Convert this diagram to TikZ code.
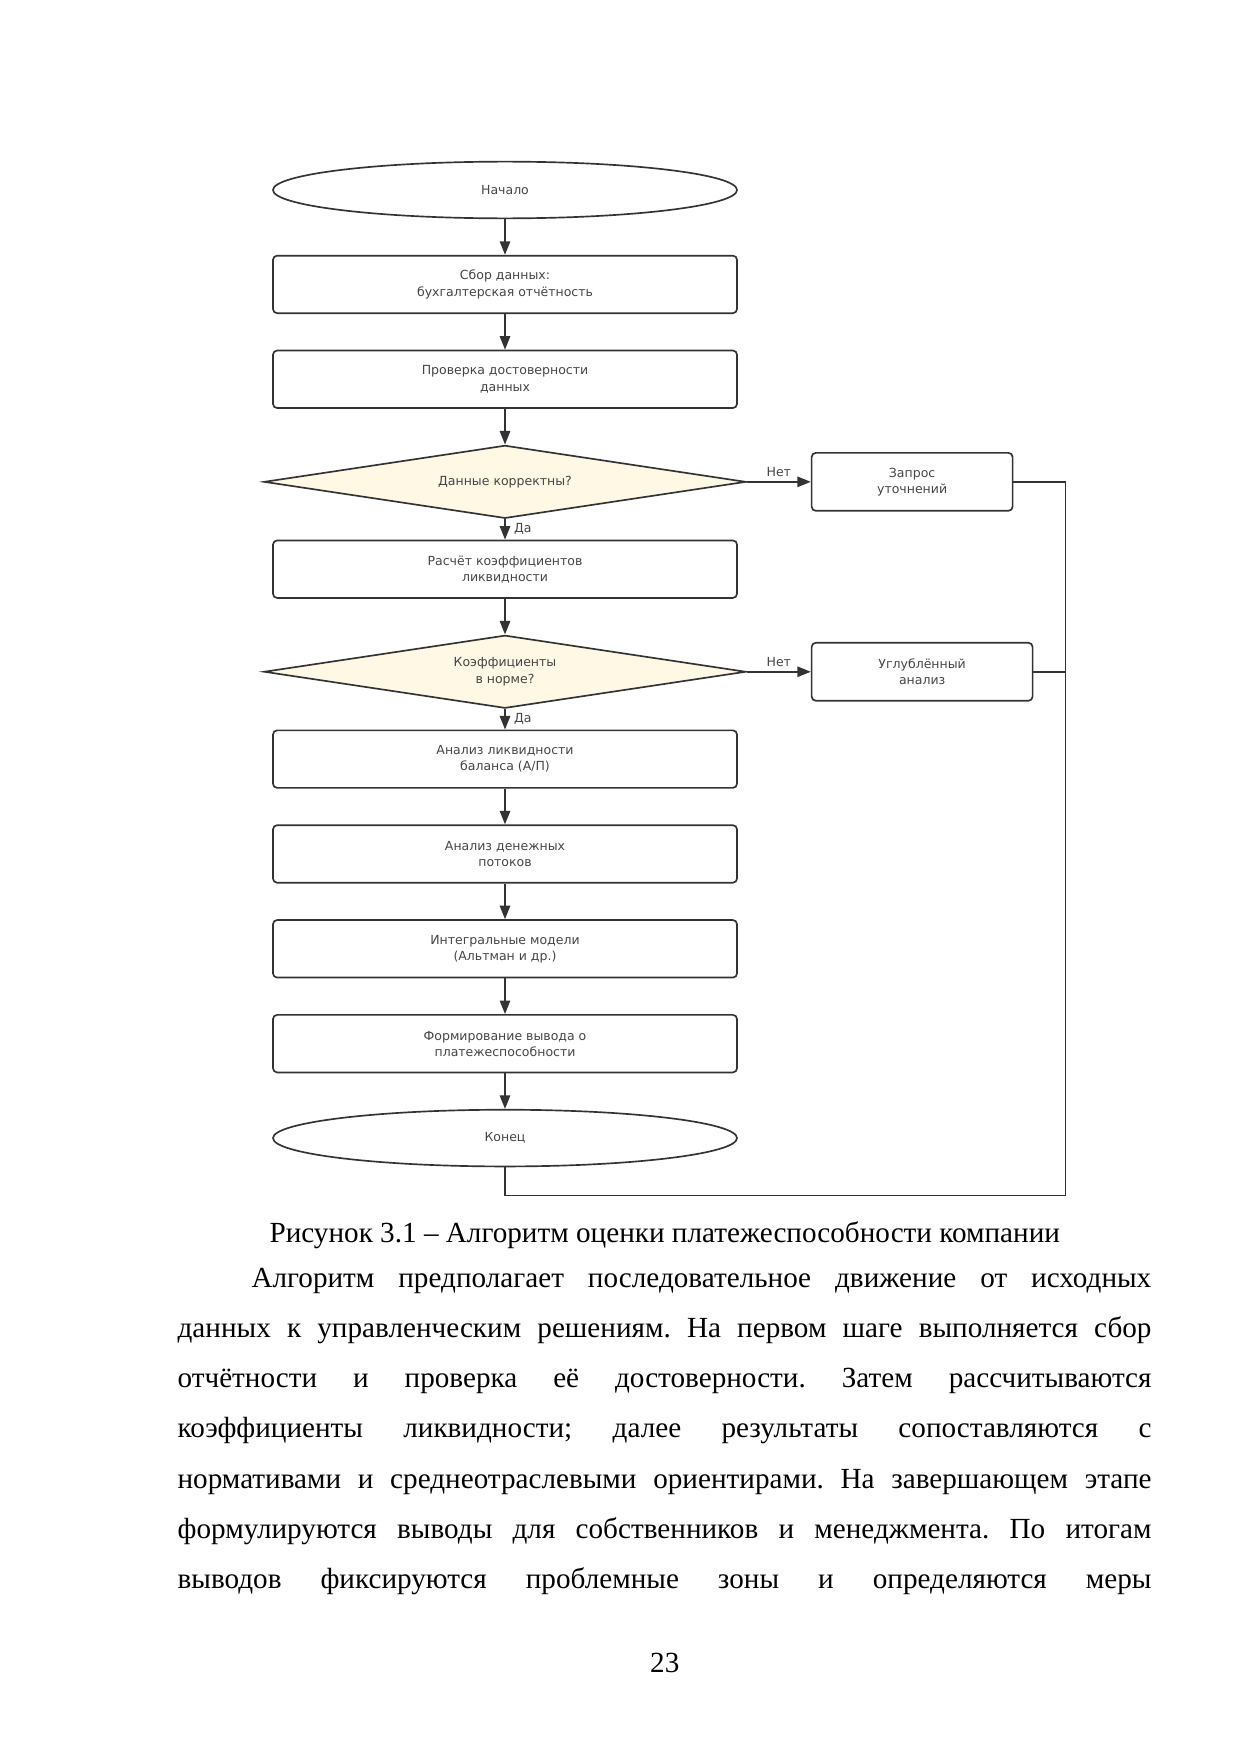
\documentclass[tikz,border=0pt]{standalone}
\usepackage{fontspec}
\setmainfont{Liberation Serif}
\newfontfamily\chartfont{DejaVu Sans}
\usepackage{tikz}
\usepackage{xcolor}
\usetikzlibrary{positioning, shapes.geometric, arrows.meta}

\definecolor{flowline}{HTML}{333333}
\definecolor{flowtext}{HTML}{454545}
\definecolor{choicefill}{HTML}{FFF8E5}

\frenchspacing
\begin{document}
\begin{tikzpicture}[
            x=0.4797pt, y=-0.4797pt,
            node distance=17.1pt,
            chart/.style={font=\chartfont\fontsize{6}{7.7}\selectfont, text=flowtext, align=center},
            terminal/.style={chart, ellipse, draw=flowline, line width=0.8pt, minimum width=222.6pt, minimum height=27.2pt},
            stepbox/.style={chart, rectangle, rounded corners=2pt, draw=flowline, line width=0.8pt, minimum width=222.6pt, minimum height=27.6pt},
            sidebox/.style={stepbox, minimum height=27.8pt},
            choice/.style={chart, diamond, aspect=6.6, draw=flowline, fill=choicefill, line width=0.8pt, minimum width=231.2pt, minimum height=35pt},
            flow/.style={draw=flowline, line width=0.8pt, -{Triangle[length=6.5pt,width=5pt]}},
            rail/.style={draw=flowline, line width=0.8pt},
            answer/.style={chart, inner sep=2pt},
            bodytext/.style={anchor=base west, inner sep=0pt, font=\fontsize{14}{16}\selectfont},
        ]
            \useasboundingbox (0,0) rectangle (1241,1754);

            \node[terminal] (nachalo) at (505,190) {Начало};
            \node[stepbox, below=of nachalo] (sbor) {Сбор данных:\\бухгалтерская отчётность};
            \node[stepbox, below=of sbor] (proverka) {Проверка достоверности\\данных};
            \node[choice, below=of proverka] (korrekt) {Данные корректны?};
            \node[stepbox, below=9.8pt of korrekt] (raschet) {Расчёт коэффициентов\\ликвидности};
            \node[choice, below=of raschet] (norma) {Коэффициенты\\в норме?};
            \node[stepbox, below=9.8pt of norma] (balans) {Анализ ликвидности\\баланса (А/П)};
            \node[stepbox, below=of balans] (potoki) {Анализ денежных\\потоков};
            \node[stepbox, below=of potoki] (modeli) {Интегральные модели\\(Альтман и др.)};
            \node[stepbox, below=of modeli] (vyvod) {Формирование вывода о\\платежеспособности};
            \node[terminal, below=of vyvod] (konec) {Конец};
            \node[sidebox, minimum width=96.4pt, right=30.7pt of korrekt] (zapros) {Запрос\\уточнений};
            \node[sidebox, minimum width=106pt, right=30.7pt of norma] (uglub) {Углублённый\\анализ};

            \foreach \a/\b in {nachalo/sbor, sbor/proverka, proverka/korrekt, raschet/norma,
                               balans/potoki, potoki/modeli, modeli/vyvod, vyvod/konec}
                \draw[flow] (\a) -- (\b);
            \draw[flow] (korrekt) -- node[answer, right, xshift=2pt] {Да} (raschet);
            \draw[flow] (norma) -- node[answer, right, xshift=2pt] {Да} (balans);
            \draw[flow] (korrekt) -- node[answer, above] {Нет} (zapros);
            \draw[flow] (norma) -- node[answer, above] {Нет} (uglub);

            \coordinate[right=25pt of zapros.east] (railtop);
            \coordinate[below=13.6pt of konec.south] (railbot);
            \draw[rail] (zapros.east) -- (railtop) |- (railbot) -- (konec.south);
            \draw[rail] (uglub.east) -- (uglub.east -| railtop);

            \node[anchor=base, font=\fontsize{14}{16}\selectfont] (caption) at (664.8,1242)
                {Рисунок 3.1 – Алгоритм оценки платежеспособности компании};
            \node[bodytext] (line1) at (251.1,1287) {\makebox[15.17cm][s]{Алгоритм предполагает последовательное движение от исходных}};
            \node[bodytext] (line2) at (177.2,1337.3) {\makebox[16.42cm][s]{данных к управленческим решениям. На первом шаге выполняется сбор}};
            \node[bodytext] (line3) at (177.2,1387.6) {\makebox[16.42cm][s]{отчётности и проверка её достоверности. Затем рассчитываются}};
            \node[bodytext] (line4) at (177.2,1437.9) {\makebox[16.42cm][s]{коэффициенты ликвидности; далее результаты сопоставляются с}};
            \node[bodytext] (line5) at (177.2,1488.2) {\makebox[16.42cm][s]{нормативами и среднеотраслевыми ориентирами. На завершающем этапе}};
            \node[bodytext] (line6) at (177.2,1538.5) {\makebox[16.42cm][s]{формулируются выводы для собственников и менеджмента. По итогам}};
            \node[bodytext] (line7) at (177.2,1588.8) {\makebox[16.42cm][s]{выводов фиксируются проблемные зоны и определяются меры}};
            \node[anchor=base, font=\fontsize{14}{16}\selectfont] (pagenum) at (664.8,1672) {23};
        \end{tikzpicture}
\end{document}
